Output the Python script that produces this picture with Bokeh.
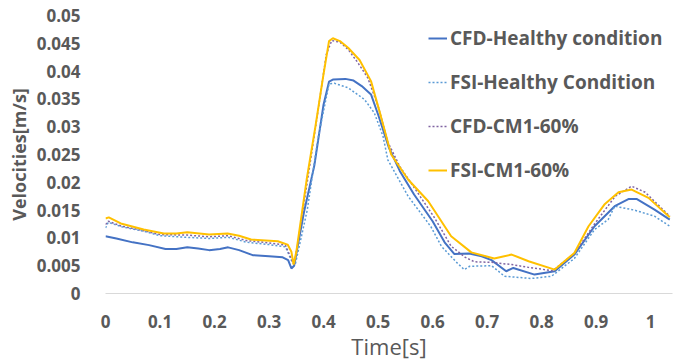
from bokeh.plotting import figure
from bokeh.models import Range1d, FixedTicker, NumeralTickFormatter, Legend, LegendItem
from bokeh.embed import file_html
from bokeh.resources import INLINE

# Time samples [s] and velocities [m/s] for each case
cfd_healthy_t = [0.000, 0.02, 0.05, 0.08, 0.11, 0.13, 0.15, 0.17, 0.19, 0.21, 0.225, 0.245,
                 0.27, 0.30, 0.325, 0.335, 0.341, 0.346, 0.364, 0.383, 0.40, 0.41, 0.418,
                 0.44, 0.455, 0.47, 0.487, 0.50, 0.52, 0.54, 0.566, 0.60, 0.622, 0.64, 0.667,
                 0.69, 0.708, 0.735, 0.748, 0.787, 0.824, 0.86, 0.897, 0.934, 0.96, 0.974,
                 1.007, 1.035]
cfd_healthy_v = [0.0103, 0.0099, 0.0092, 0.0087, 0.0080, 0.0080, 0.0083, 0.0081, 0.0078, 0.0080,
                 0.0083, 0.0078, 0.0069, 0.0067, 0.0065, 0.0060, 0.0045, 0.0050, 0.0146,
                 0.0230, 0.0340, 0.0381, 0.0385, 0.0386, 0.0383, 0.0373, 0.0358, 0.0322,
                 0.0262, 0.0220, 0.0178, 0.0130, 0.0092, 0.0071, 0.0072, 0.0067, 0.0060,
                 0.0040, 0.0046, 0.0034, 0.0040, 0.0070, 0.0121, 0.0157, 0.0170, 0.0170,
                 0.0151, 0.0133]

fsi_healthy_t = [0.000, 0.005, 0.03, 0.07, 0.10, 0.15, 0.19, 0.225, 0.26, 0.30, 0.33, 0.343,
                 0.348, 0.37, 0.39, 0.41, 0.42, 0.445, 0.475, 0.493, 0.509, 0.518, 0.555,
                 0.597, 0.616, 0.645, 0.658, 0.668, 0.708, 0.732, 0.781, 0.818, 0.86, 0.897,
                 0.922, 0.934, 0.97, 1.007, 1.035]
fsi_healthy_v = [0.0118, 0.0128, 0.0120, 0.0112, 0.0104, 0.0101, 0.0099, 0.0101, 0.0092,
                 0.0088, 0.0084, 0.0055, 0.0052, 0.0150, 0.0280, 0.0377, 0.0378, 0.0370,
                 0.0349, 0.0325, 0.0283, 0.0240, 0.0175, 0.0120, 0.0085, 0.0055, 0.0043,
                 0.0049, 0.0050, 0.0031, 0.0027, 0.0031, 0.0063, 0.0115, 0.0133, 0.0157,
                 0.0150, 0.0139, 0.0121]

cfd_cm1_t = [0.000, 0.005, 0.03, 0.07, 0.10, 0.15, 0.19, 0.225, 0.26, 0.30, 0.33, 0.343,
             0.347, 0.37, 0.39, 0.405, 0.415, 0.43, 0.445, 0.463, 0.481, 0.50, 0.518, 0.54,
             0.57, 0.603, 0.634, 0.66, 0.677, 0.708, 0.745, 0.776, 0.82, 0.86, 0.897, 0.935,
             0.965, 0.99, 1.035]
cfd_cm1_v = [0.0124, 0.0130, 0.0121, 0.0113, 0.0106, 0.0105, 0.0102, 0.0104, 0.0095, 0.0091,
             0.0087, 0.0057, 0.0054, 0.0200, 0.0330, 0.0430, 0.0455, 0.0452, 0.0439, 0.0415,
             0.0388, 0.0337, 0.0272, 0.0228, 0.0185, 0.0137, 0.0085, 0.0065, 0.0057, 0.0056,
             0.0052, 0.0047, 0.0041, 0.0072, 0.0125, 0.0175, 0.0193, 0.0182, 0.0139]

fsi_cm1_t = [0.000, 0.006, 0.028, 0.07, 0.107, 0.13, 0.15, 0.19, 0.224, 0.245, 0.267, 0.316,
             0.334, 0.341, 0.345, 0.35, 0.369, 0.385, 0.40, 0.41, 0.417, 0.43, 0.445, 0.466,
             0.487, 0.505, 0.524, 0.555, 0.592, 0.61, 0.634, 0.671, 0.713, 0.745, 0.776,
             0.824, 0.86, 0.886, 0.915, 0.941, 0.965, 0.996, 1.035]
fsi_cm1_v = [0.0135, 0.0137, 0.0126, 0.0115, 0.0108, 0.0108, 0.0110, 0.0106, 0.0108, 0.0104,
             0.0097, 0.0094, 0.0088, 0.0075, 0.0052, 0.0075, 0.0205, 0.0300, 0.0395, 0.0454,
             0.0459, 0.0454, 0.0442, 0.0420, 0.0382, 0.0319, 0.0250, 0.0205, 0.0166, 0.0139,
             0.0103, 0.0074, 0.0063, 0.0070, 0.0058, 0.0043, 0.0073, 0.0121, 0.0160, 0.0182,
             0.0187, 0.0172, 0.0137]

series_names = ["CFD-Healthy condition", "FSI-Healthy Condition", "CFD-CM1-60%", "FSI-CM1-60%"]
x_ticks = [0, 0.1, 0.2, 0.3, 0.4, 0.5, 0.6, 0.7, 0.8, 0.9, 1.0]
y_ticks = [0, 0.005, 0.01, 0.015, 0.02, 0.025, 0.03, 0.035, 0.04, 0.045, 0.05]

TEXT = "#595959"
FONT = "Open Sans"

p = figure(width=681, height=363, output_backend="svg", toolbar_location=None,
           x_range=Range1d(0, 1.04), y_range=Range1d(0, 0.05),
           min_border_left=105, min_border_right=9, min_border_top=15, min_border_bottom=69)
p.outline_line_color = None
p.xgrid.visible = False
p.ygrid.visible = False

r1 = p.line(cfd_healthy_t, cfd_healthy_v, line_color="#4472C4", line_width=2)
r2 = p.line(fsi_healthy_t, fsi_healthy_v, line_color="#5B9BD5", line_width=1.5, line_dash="2 2")
r3 = p.line(cfd_cm1_t, cfd_cm1_v, line_color="#8064A2", line_width=1.5, line_dash="2 2")
r4 = p.line(fsi_cm1_t, fsi_cm1_v, line_color="#FFC000", line_width=2)

# Axes
xa = p.xaxis[0]
xa.ticker = FixedTicker(ticks=x_ticks)
xa.formatter = NumeralTickFormatter(format="0.[0]")
xa.axis_line_color = "#D9D9D9"
xa.major_tick_line_color = None
xa.minor_tick_line_color = None
xa.major_label_text_font = FONT
xa.major_label_text_font_style = "bold"
xa.major_label_text_font_size = "17px"
xa.major_label_text_color = TEXT
xa.major_label_standoff = 15
xa.axis_label = "Time[s]"
xa.axis_label_text_font = FONT
xa.axis_label_text_font_style = "normal"
xa.axis_label_text_font_size = "22px"
xa.axis_label_text_color = TEXT
xa.axis_label_standoff = 0

ya = p.yaxis[0]
ya.ticker = FixedTicker(ticks=y_ticks)
ya.formatter = NumeralTickFormatter(format="0.[000]")
ya.axis_line_color = None
ya.major_tick_line_color = None
ya.minor_tick_line_color = None
ya.major_label_text_font = FONT
ya.major_label_text_font_style = "bold"
ya.major_label_text_font_size = "17px"
ya.major_label_text_color = TEXT
ya.major_label_standoff = 19
ya.axis_label = "Velocities[m/s]"
ya.axis_label_text_font = FONT
ya.axis_label_text_font_style = "bold"
ya.axis_label_text_font_size = "18px"
ya.axis_label_text_color = TEXT
ya.axis_label_standoff = 3

legend = Legend(
    items=[LegendItem(label=n, renderers=[r]) for n, r in zip(series_names, [r1, r2, r3, r4])],
    location=(313, 100),
    label_text_font=FONT, label_text_font_style="bold", label_text_font_size="19px",
    label_text_color=TEXT, label_height=20, glyph_height=20, glyph_width=19,
    label_standoff=3, spacing=18, padding=10, margin=0,
    background_fill_alpha=0, border_line_alpha=0,
)
p.add_layout(legend)

open("out.html", "w").write(file_html(p, INLINE))
